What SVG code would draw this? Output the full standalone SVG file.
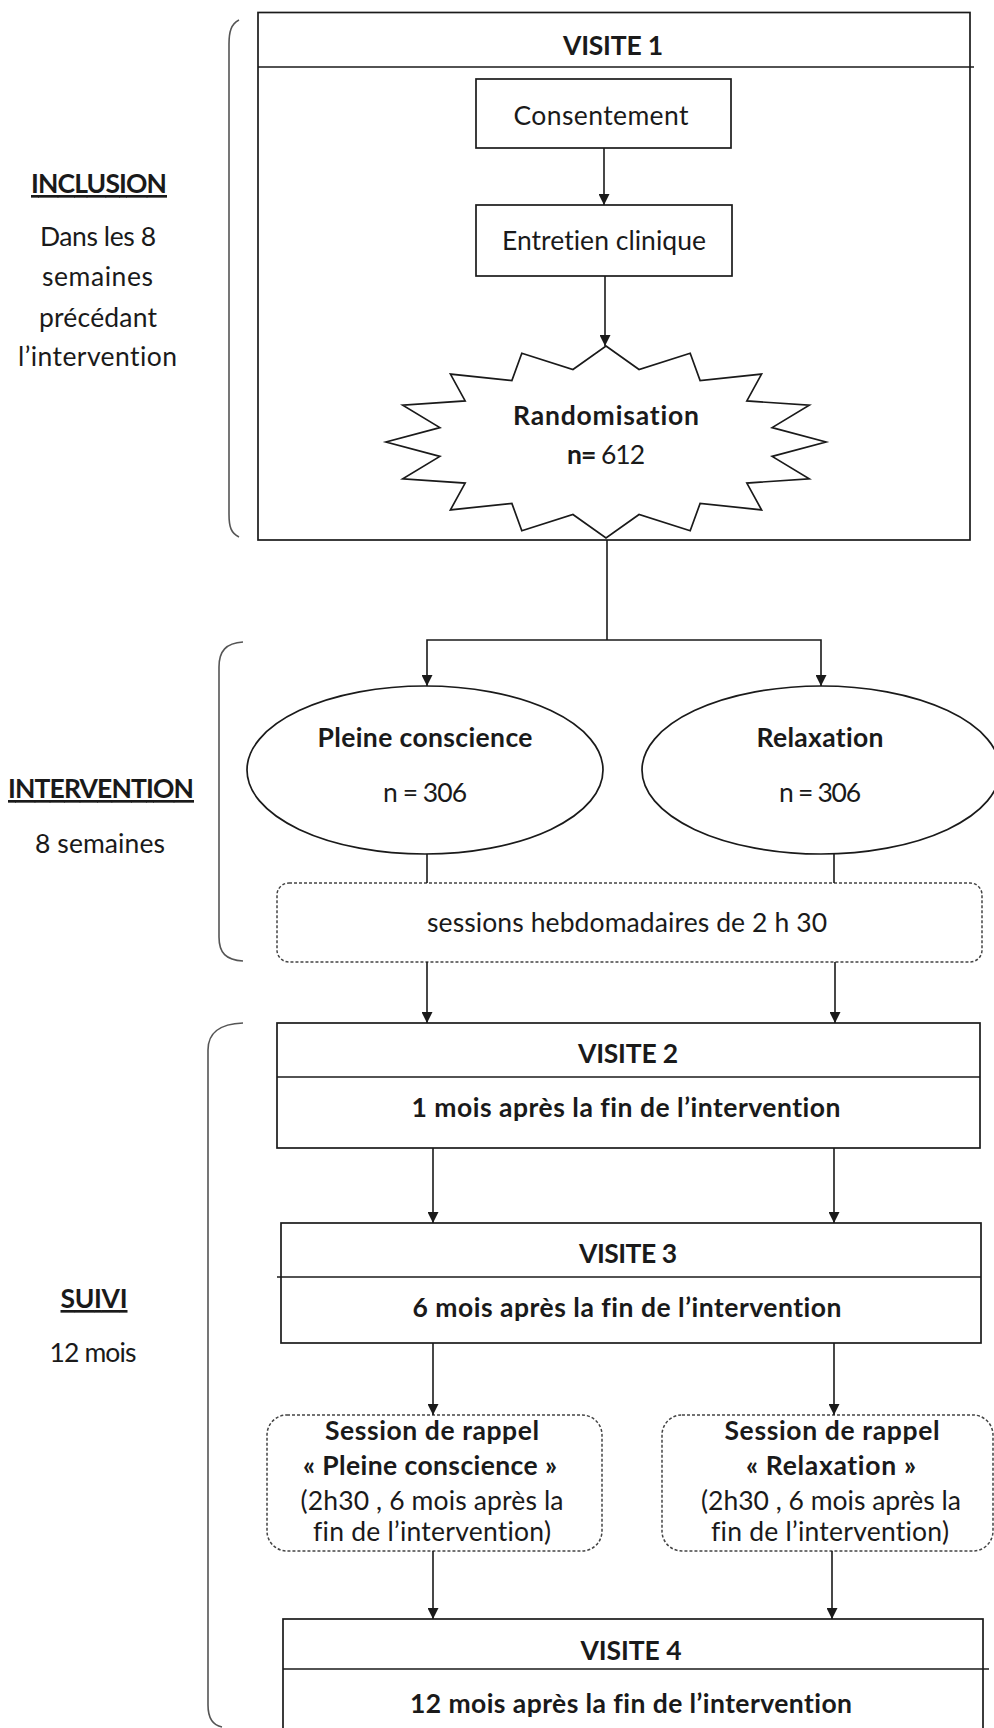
<svg xmlns="http://www.w3.org/2000/svg" width="994" height="1728" viewBox="0 0 994 1728">
<defs>
<marker id="ah" viewBox="0 0 10 10" refX="10" refY="5" markerWidth="11" markerHeight="11" markerUnits="userSpaceOnUse" orient="auto"><path d="M0,0 L10,5 L0,10 z" fill="#1a1a1a"/></marker>
</defs>
<style>
.t{font-family:Lato,"Open Sans","Liberation Sans",sans-serif;font-size:26.5px;fill:#1a1a1a;text-anchor:middle;font-variant-ligatures:none}
.b{font-weight:bold}
.u{text-decoration:underline}
.box{fill:#fff;stroke:#1a1a1a;stroke-width:1.7}
.dash{fill:#fff;stroke:#444;stroke-width:1.5;stroke-dasharray:3 2}
.ln{fill:none;stroke:#1a1a1a;stroke-width:1.6}
.arr{fill:none;stroke:#1a1a1a;stroke-width:1.6;marker-end:url(#ah)}
.br{fill:none;stroke:#555;stroke-width:1.6}
</style>
<rect width="994" height="1728" fill="#fff"/>

<g id="labels">
<g id="label-inclusion">
<path class="br" d="M239,20 C231,24 229,32 229,44 L229,514 C229,527 231,533 239,537"/>
<text class="t b u" x="99" y="193" textLength="136">INCLUSION</text>
<text class="t" x="98" y="246" textLength="116">Dans les 8</text>
<text class="t" x="97.5" y="286" textLength="111">semaines</text>
<text class="t" x="98" y="327" textLength="118">précédant</text>
<text class="t" x="97.5" y="366" textLength="159">l’intervention</text>
</g>
<g id="label-intervention">
<path class="br" d="M243,642 C226,643 219,651 219,667 L219,937 C219,953 226,960 243,961"/>
<text class="t b u" x="101" y="798" textLength="186">INTERVENTION</text>
<text class="t" x="100" y="853" textLength="130">8 semaines</text>
</g>
<g id="label-suivi">
<path class="br" d="M243,1023 C220,1024 208,1032 208,1050 L208,1705 C208,1718 212,1725 222,1727"/>
<text class="t b u" x="94" y="1308" textLength="67">SUIVI</text>
<text class="t" x="93" y="1362" textLength="87">12 mois</text>
</g>
</g>

<g id="visite1">
<rect class="box" x="258" y="12.5" width="712" height="527.5"/>
<line class="ln" x1="258" y1="67" x2="974" y2="67"/>
<text class="t b" x="613" y="55" textLength="100">VISITE 1</text>
</g>

<g id="consentement">
<rect class="box" x="476" y="79" width="255" height="69"/>
<text class="t" x="601" y="125" textLength="175">Consentement</text>
</g>

<g id="entretien">
<rect class="box" x="476" y="205" width="256" height="71"/>
<text class="t" x="604" y="250" textLength="204">Entretien clinique</text>
</g>

<g id="randomisation">
<polygon class="box" points="606,346 639.05,369.52 690.19,353.31 700.11,380.56 761.56,374.12 746.85,400.94 809.25,405.26 772.15,427.58 826,442 772.15,456.42 809.25,478.74 746.85,483.06 761.56,509.88 700.11,503.44 690.19,530.69 639.05,514.48 606,538 572.95,514.48 521.81,530.69 511.89,503.44 450.44,509.88 465.15,483.06 402.75,478.74 439.85,456.42 386,442 439.85,427.58 402.75,405.26 465.15,400.94 450.44,374.12 511.89,380.56 521.81,353.31 572.95,369.52"/>
<text class="t b" x="606" y="425" textLength="186">Randomisation</text>
<text class="t" x="606" y="464" textLength="78"><tspan class="b">n=</tspan> 612</text>
</g>

<g id="pleine">
<ellipse class="box" cx="425" cy="770" rx="178" ry="84"/>
<text class="t b" x="425" y="747" textLength="215">Pleine conscience</text>
<text class="t" x="425" y="802" textLength="84">n = 306</text>
</g>

<g id="relaxation">
<ellipse class="box" cx="821" cy="770" rx="179" ry="84"/>
<text class="t b" x="820" y="747" textLength="127">Relaxation</text>
<text class="t" x="820" y="802" textLength="82">n = 306</text>
</g>

<g id="sessions">
<rect class="dash" x="277" y="883" width="705" height="79" rx="12"/>
<text class="t" x="627" y="932" textLength="400">sessions hebdomadaires de 2 h 30</text>
</g>

<g id="visite2">
<rect class="box" x="277" y="1023" width="703" height="125"/>
<line class="ln" x1="277" y1="1077" x2="980" y2="1077"/>
<text class="t b" x="628" y="1063" textLength="100">VISITE 2</text>
<text class="t b" x="626" y="1117" textLength="429">1 mois après la fin de l’intervention</text>
</g>

<g id="visite3">
<rect class="box" x="281" y="1223" width="700" height="120"/>
<line class="ln" x1="277" y1="1277" x2="981" y2="1277"/>
<text class="t b" x="628" y="1263" textLength="98">VISITE 3</text>
<text class="t b" x="627" y="1317" textLength="429">6 mois après la fin de l’intervention</text>
</g>

<g id="rappel-pleine">
<rect class="dash" x="267" y="1415" width="335" height="136" rx="20"/>
<text class="t b" x="432" y="1440" textLength="214">Session de rappel</text>
<text class="t b" x="430" y="1475" textLength="254">« Pleine conscience »</text>
<text class="t" x="432" y="1510" textLength="263">(2h30 , 6 mois après la</text>
<text class="t" x="432" y="1541" textLength="238">fin de l’intervention)</text>
</g>

<g id="rappel-relaxation">
<rect class="dash" x="662" y="1415" width="331" height="136" rx="20"/>
<text class="t b" x="832" y="1440" textLength="215">Session de rappel</text>
<text class="t b" x="831" y="1475" textLength="170">« Relaxation »</text>
<text class="t" x="831" y="1510" textLength="260">(2h30 , 6 mois après la</text>
<text class="t" x="830" y="1541" textLength="238">fin de l’intervention)</text>
</g>

<g id="visite4">
<rect class="box" x="283" y="1619" width="700" height="130"/>
<line class="ln" x1="283" y1="1669" x2="989" y2="1669"/>
<text class="t b" x="631" y="1660" textLength="101">VISITE 4</text>
<text class="t b" x="631" y="1713" textLength="442">12 mois après la fin de l’intervention</text>
</g>

<g id="connectors">
<line class="arr" x1="604" y1="148" x2="604" y2="205"/>
<line class="arr" x1="605" y1="276" x2="605" y2="346"/>
<polyline class="ln" points="607,540 607,640"/>
<polyline class="arr" points="607,640 427,640 427,686"/>
<polyline class="arr" points="607,640 821,640 821,686"/>
<line class="ln" x1="427" y1="854" x2="427" y2="883"/>
<line class="ln" x1="834" y1="854" x2="834" y2="883"/>
<line class="arr" x1="427" y1="962" x2="427" y2="1023"/>
<line class="arr" x1="835" y1="962" x2="835" y2="1023"/>
<line class="arr" x1="433" y1="1148" x2="433" y2="1223"/>
<line class="arr" x1="834" y1="1148" x2="834" y2="1223"/>
<line class="arr" x1="433" y1="1343" x2="433" y2="1415"/>
<line class="arr" x1="834" y1="1343" x2="834" y2="1415"/>
<line class="arr" x1="433" y1="1551" x2="433" y2="1619"/>
<line class="arr" x1="832" y1="1551" x2="832" y2="1619"/>
</g>
</svg>
